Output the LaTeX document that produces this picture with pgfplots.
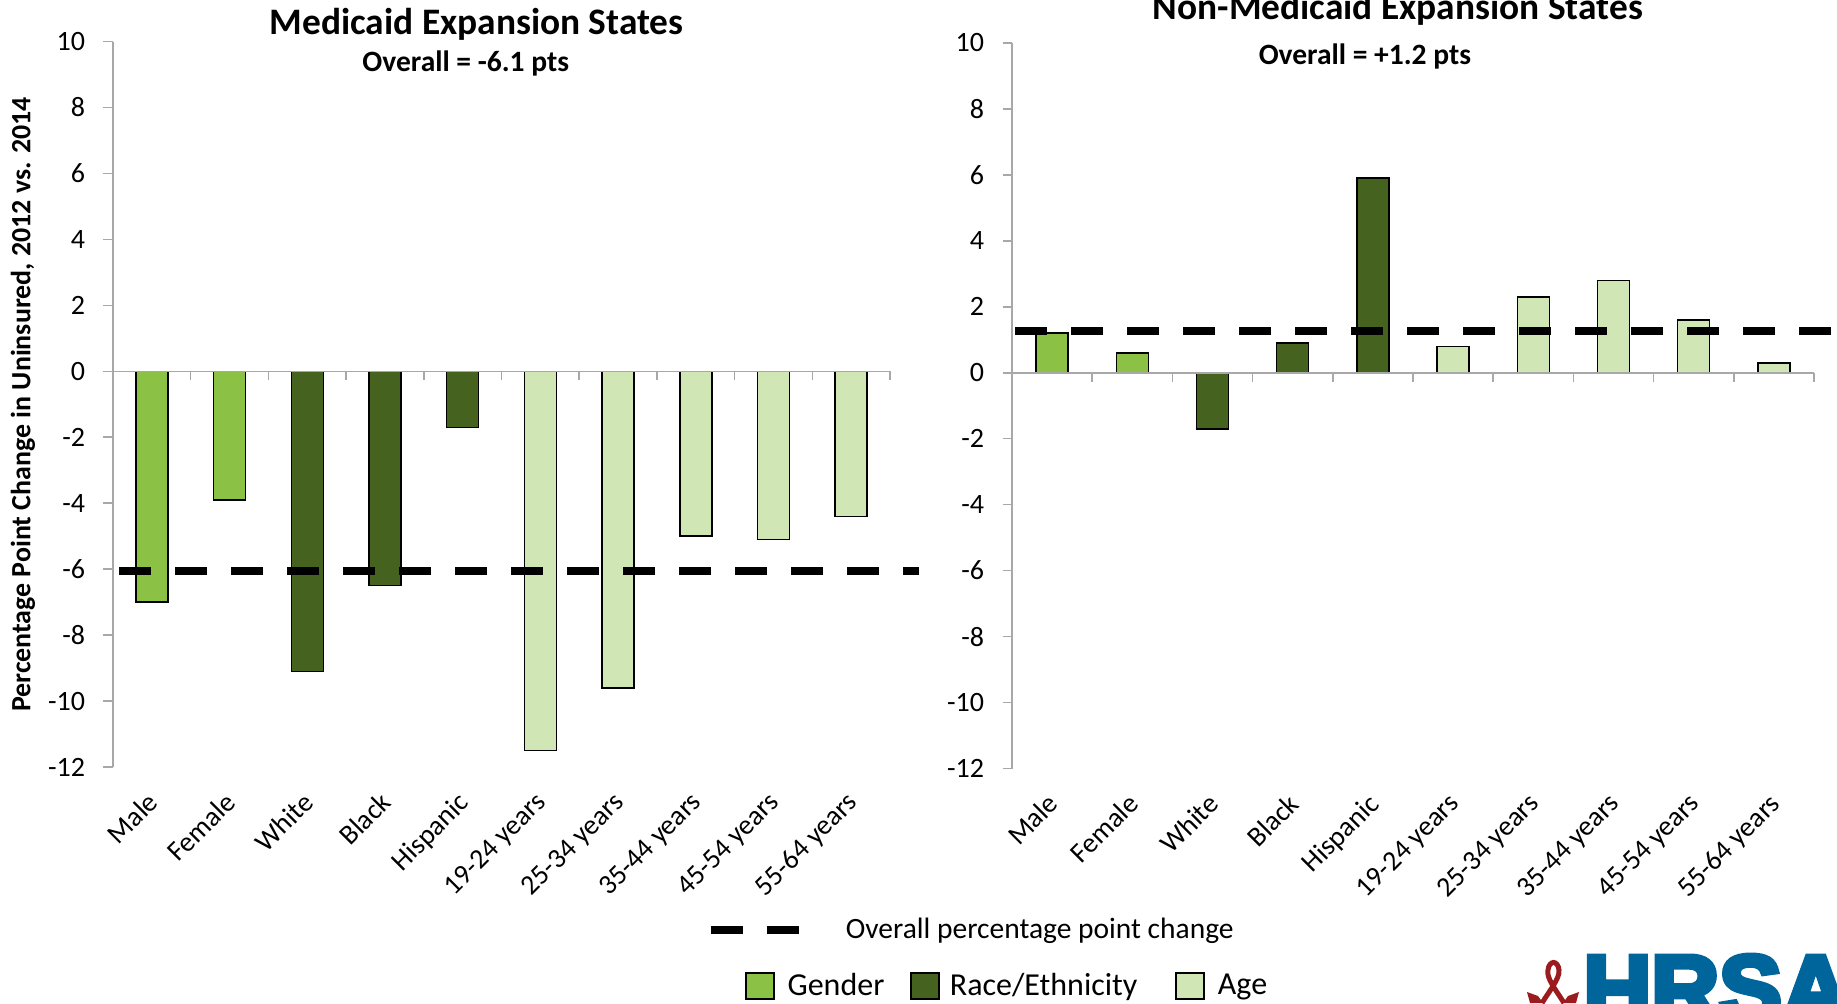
\documentclass[border=0pt]{standalone}
\usepackage{fontspec}
\setmainfont{Carlito}
\newfontfamily\logofont[FakeBold=6]{Liberation Sans Bold}
\usepackage{pgfplots}
\pgfplotsset{compat=1.18}

\definecolor{gendercol}{HTML}{8BC145}
\definecolor{racecol}{HTML}{46621F}
\definecolor{agecol}{HTML}{D1E6B5}
\definecolor{axiscol}{HTML}{A8A8A8}
\definecolor{hrsablue}{HTML}{00659B}
\definecolor{hrsared}{HTML}{9B1C1F}

% 1 px of the reference = 0.5pt
\pgfplotsset{
  swatch/.style={legend image code/.code={\draw[##1] (0pt,-6.5pt) rectangle (14pt,6.5pt);}},
  overall/.style={sharp plot, black, line width=4pt, dash pattern=on 16pt off 12pt, line cap=butt},
  barstyle/.style={ybar, bar shift=0pt, draw=black, line width=.75pt, fill=#1, swatch},
  panel/.style={
    scale only axis,
    height=362.75pt,
    clip=false,
    axis on top,
    axis y line=left,
    axis x line=middle,
    axis line style={-, draw=axiscol, line width=.75pt},
    xmin=-0.5, xmax=9.5,
    ymin=-12, ymax=10,
    ytick={-12,-10,...,10},
    xtick={0,...,9},
    minor xtick={-0.5,0.5,...,9.5},
    xticklabels={Male,Female,White,Black,Hispanic,19-24 years,25-34 years,35-44 years,45-54 years,55-64 years},
    hide obscured x ticks=false,
    hide obscured y ticks=false,
    tick align=outside,
    tick style={draw=axiscol, line width=.75pt},
    major x tick style={draw=none},
    major tick length=4.75pt,
    minor tick length=4.5pt,
    bar width=16pt,
    /pgf/number format/assume math mode=true,
    tick label style={font=\fontsize{14pt}{16pt}\selectfont},
    y tick label style={inner sep=0pt, xshift=-9pt},
    x tick label style={xshift=-3pt, yshift=-204.7pt, rotate=45, anchor=north east, inner sep=0pt},
    title style={font=\fontsize{18.7pt}{21pt}\selectfont\bfseries, anchor=base, yshift=-6pt},
    legend cell align=left,
    legend style={draw=none, fill=none, inner sep=0pt, font=\fontsize{16pt}{18pt}\selectfont,
      nodes={inner sep=0pt}},
  },
}

\begin{document}
\begin{tikzpicture}
\path[use as bounding box, clip] (0pt,0pt) rectangle (918.5pt,501.5pt);

\begin{axis}[
  panel,
  at={(56.5pt,118pt)},
  width=388.5pt,
  title={Medicaid Expansion States},
  title style={at={(axis description cs:0.468,1.009)}},
  ylabel={Percentage Point Change in Uninsured, 2012 vs. 2014},
  ylabel style={at={(axis description cs:-0.116,0.4995)}, anchor=center,
    font=\fontsize{13.95pt}{16pt}\selectfont\bfseries},
  legend columns=3,
  legend style={at={(axis description cs:0.813,-0.302)}, anchor=west},
]
\addplot[barstyle=gendercol] coordinates {(0,-7.0) (1,-3.9)};
\addlegendentry{\hspace{6.5pt}Gender\kern13pt}
\addplot[barstyle=racecol] coordinates {(2,-9.1) (3,-6.5) (4,-1.7)};
\addlegendentry{\hspace{5pt}Race/Ethnicity\kern19pt}
\addplot[barstyle=agecol] coordinates {(5,-11.5) (6,-9.6) (7,-5.0) (8,-5.1) (9,-4.4)};
\addlegendentry{\hspace{6.5pt}Age}
\addplot[overall, forget plot] coordinates {(-0.423,-6.07) (9.873,-6.07)};
\node[anchor=base, font=\fontsize{14.75pt}{17pt}\selectfont\bfseries]
  at (axis description cs:0.454,0.958) {Overall = -6.1 pts};
\end{axis}

\begin{axis}[
  panel,
  at={(506pt,117.25pt)},
  width=401pt,
  title={Non-Medicaid Expansion States},
  title style={at={(axis description cs:0.481,1.032)}},
  legend style={at={(axis description cs:-0.381,-0.222)}, anchor=west,
    font=\fontsize{14.75pt}{17pt}\selectfont},
]
\addplot[barstyle=gendercol, forget plot] coordinates {(0,1.2) (1,0.6)};
\addplot[barstyle=racecol, forget plot] coordinates {(2,-1.7) (3,0.9) (4,5.9)};
\addplot[barstyle=agecol, forget plot] coordinates {(5,0.8) (6,2.3) (7,2.8) (8,1.6) (9,0.3)};
\addplot[overall, legend image code/.code={\draw[##1] (0pt,0pt) -- (44pt,0pt);}]
  coordinates {(-0.4626,1.265) (9.712,1.265)};
\addlegendentry{\hspace{21.5pt}Overall percentage point change}
\node[anchor=base, font=\fontsize{14.75pt}{17pt}\selectfont\bfseries]
  at (axis description cs:0.44,0.97) {Overall = +1.2 pts};
\end{axis}

% logo, cut off by the page as in the reference
\begin{scope}[shift={(0pt,501.5pt)}, x=.5pt, y=-.5pt]
\node[anchor=base west, inner sep=0pt, text=hrsablue, font=\fontsize{47pt}{50pt}\logofont]
  at (1583,1021) {HRSA};
\draw[hrsared, line width=2.5pt]
  (1564,1003) .. controls (1556,990) and (1546,978) .. (1548,970)
  .. controls (1549,960) and (1558,960) .. (1559,970)
  .. controls (1560,978) and (1550,990) .. (1542,1003);
\fill[hrsared] (1527,992) -- (1538,996) -- (1543,1003) -- (1530,1003) -- cycle;
\fill[hrsared] (1579,992) -- (1568,996) -- (1563,1003) -- (1576,1003) -- cycle;
\end{scope}
\end{tikzpicture}
\end{document}
